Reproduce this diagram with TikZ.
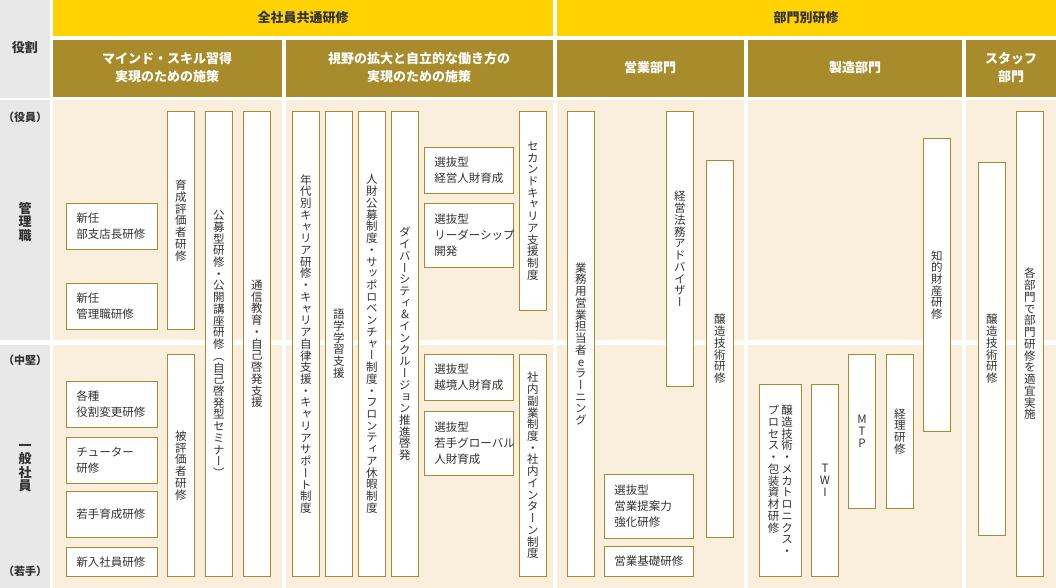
\documentclass[tikz,border=0pt]{standalone}
\usepackage{fontspec}
\setmainfont{Noto Sans CJK JP}
\newfontfamily\vjp[RawFeature=+vert]{Noto Sans CJK JP}
\definecolor{ylw}{HTML}{FFD200}
\definecolor{olv}{HTML}{A88B2A}
\definecolor{bge}{HTML}{FAEFDC}
\definecolor{gry}{HTML}{E8E8E8}
\definecolor{gld}{HTML}{A8892B}
\definecolor{txt}{HTML}{333333}
\ExplSyntaxOn
\NewDocumentCommand\vt{m}{\vtop{\vjp\baselineskip=1.02em\lineskiplimit=-20pt\lineskip=0pt\tl_map_inline:nn{#1}{\hbox to 1em{\hss##1\hss}}}}
\ExplSyntaxOff
\newcommand\hb[6]{\pgfmathsetmacro\ww{#4-#2}\pgfmathsetmacro\hh{#5-#3}\pgfmathsetmacro\tw{#4-#2-20}%
 \node[box,anchor=north west,minimum width=\ww pt,minimum height=\hh pt,text width=\tw pt,align=left,inner xsep=10pt,inner ysep=0pt] (#1) at (#2,#3) {#6};}
\newcommand\vb[6]{\pgfmathsetmacro\ww{#4-#2}\pgfmathsetmacro\hh{#5-#3}%
 \node[box,anchor=north west,minimum width=\ww pt,minimum height=\hh pt,inner sep=0pt] (#1) at (#2,#3) {\vt{#6}};}
\begin{document}
\begin{tikzpicture}[x=1pt,y=-1pt,
 box/.style={draw=gld,fill=white,line width=0.9pt,text=txt,font=\fontsize{11.5}{16}\selectfont},
 hd/.style={font=\fontsize{13}{18}\selectfont\bfseries,align=center}]
\useasboundingbox (0,0) rectangle (1056,588);
% backgrounds
\fill[gry] (0,0) rectangle (50,98);
\fill[gry] (0,100) rectangle (50,340);
\fill[gry] (0,345) rectangle (50,588);
\fill[ylw] (53,0) rectangle (553,36);
\fill[ylw] (557,0) rectangle (1056,36);
\foreach \a/\b in {53/282,286/553,557/744,748/962,966/1056}{
 \fill[olv] (\a,40) rectangle (\b,97);
 \fill[bge] (\a,100) rectangle (\b,340);
 \fill[bge] (\a,345) rectangle (\b,588);}
% headers
\node[hd,text=txt] (h0) at (25,48) {役割};
\node[hd,text=txt] (h1) at (303,18) {全社員共通研修};
\node[hd,text=txt] (h2) at (806,18) {部門別研修};
\node[hd,text=white] (h3) at (167,68) {マインド・スキル習得\\実現のための施策};
\node[hd,text=white] (h4) at (419,68) {視野の拡大と自立的な働き方の\\実現のための施策};
\node[hd,text=white] (h5) at (650,68) {営業部門};
\node[hd,text=white] (h6) at (855,68) {製造部門};
\node[hd,text=white] (h7) at (1011,68) {スタッフ\\部門};
\node[text=txt,font=\fontsize{11}{14}\selectfont\bfseries] (r1) at (25,117) {（役員）};
\node[text=txt,font=\fontsize{11}{14}\selectfont\bfseries] (r2) at (25,360) {（中堅）};
\node[text=txt,font=\fontsize{11}{14}\selectfont\bfseries] (r3) at (25,571) {（若手）};
\node[text=txt,font=\fontsize{13}{14}\selectfont\bfseries,inner sep=0pt] (r4) at (25,222) {\vt{管理職}};
\node[text=txt,font=\fontsize{13}{14}\selectfont\bfseries,inner sep=0pt] (r5) at (25,468) {\vt{一般社員}};
% column 1
\hb{a1}{66}{203}{157}{249}{新任\\部支店長研修}
\hb{a2}{66}{283}{157}{329}{新任\\管理職研修}
\vb{a3}{167}{111}{194}{329}{育成評価者研修}
\vb{a4}{205}{111}{232}{576}{公募型研修・公開講座研修（自己啓発型セミナー）}
\vb{a5}{243}{111}{270}{576}{通信教育・自己啓発支援}
\hb{a6}{66}{381}{157}{427}{各種\\役割変更研修}
\hb{a7}{66}{437}{157}{483}{チューター\\研修}
\hb{a8}{66}{491}{157}{537}{若手育成研修}
\hb{a9}{66}{547}{157}{576}{新入社員研修}
\vb{a10}{167}{354}{194}{576}{被評価者研修}
% column 2
\vb{b1}{292}{111}{319}{576}{年代別キャリア研修・キャリア自律支援・キャリアサポート制度}
\vb{b2}{325}{111}{352}{576}{語学学習支援}
\vb{b3}{358}{111}{385}{576}{人財公募制度・サッポロベンチャー制度・フロンティア休暇制度}
\vb{b4}{391}{111}{418}{576}{ダイバーシティ\&インクルージョン推進啓発}
\hb{b5}{424}{147}{513}{193}{選抜型\\経営人財育成}
\hb{b6}{424}{203}{513}{267}{選抜型\\リーダーシップ\\開発}
\vb{b7}{519}{111}{546}{310}{セカンドキャリア支援制度}
\hb{b8}{424}{354}{513}{400}{選抜型\\越境人財育成}
\hb{b9}{424}{411}{513}{475}{選抜型\\若手グローバル\\人財育成}
\vb{b10}{519}{354}{546}{576}{社内副業制度・社内インターン制度}
% sales
\vb{c1}{567}{111}{594}{576}{業務用営業担当者eラーニング}
\vb{c2}{666}{111}{693}{386}{経営法務アドバイザー}
\vb{c3}{706}{160}{733}{537}{醸造技術研修}
\hb{c4}{604}{474}{693}{538}{選抜型\\営業提案力\\強化研修}
\hb{c5}{604}{546}{693}{576}{営業基礎研修}
% manufacturing
\node[box,anchor=north west,minimum width=42pt,minimum height=192pt,inner sep=0pt] (d1) at (759,384) {};
\node[anchor=north,inner sep=0pt,text=txt,font=\fontsize{11.5}{16}\selectfont] (d1t) at ([yshift=-21pt]d1.north) {\vt{プロセス・包装資材研修}\kern2pt\vt{醸造技術・メカトロニクス・}};
\vb{d2}{811}{384}{838}{576}{TWI}
\vb{d3}{848}{354}{875}{508}{MTP}
\vb{d4}{886}{354}{913}{508}{経理研修}
\vb{d5}{923}{138}{950}{431}{知的財産研修}
% staff
\vb{e1}{978}{162}{1005}{535}{醸造技術研修}
\vb{e2}{1016}{111}{1043}{576}{各部門で部門研修を適宜実施}
\end{tikzpicture}
\end{document}
